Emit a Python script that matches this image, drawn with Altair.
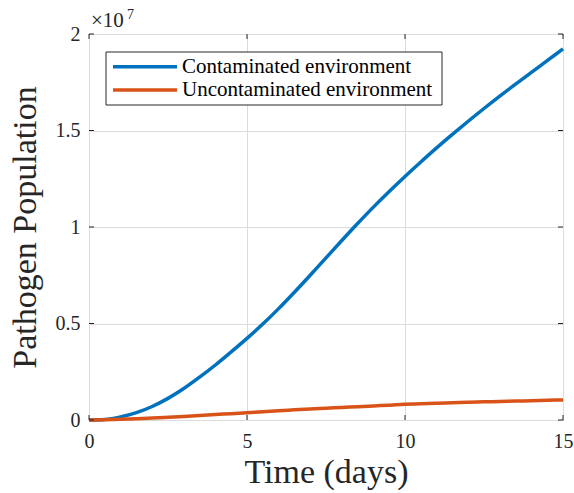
import altair as alt
import pandas as pd

# ---- data (values in units of 1e7) ----
T = [0, 0.5, 1, 1.5, 2, 2.5, 3, 3.5, 4, 4.5, 5, 5.5, 6, 6.5, 7, 7.5,
     8, 8.5, 9, 9.5, 10, 10.5, 11, 11.5, 12, 12.5, 13, 13.5, 14, 14.5, 15]
CONTAMINATED = [0, 0.003, 0.016, 0.038, 0.07, 0.112, 0.163, 0.222, 0.285, 0.353,
                0.423, 0.497, 0.577, 0.662, 0.75, 0.84, 0.93, 1.018, 1.103, 1.184,
                1.262, 1.337, 1.41, 1.48, 1.548, 1.614, 1.678, 1.74, 1.801, 1.862, 1.923]
UNCONTAMINATED = [0, 0.0015, 0.004, 0.007, 0.01, 0.014, 0.018, 0.023, 0.028, 0.033,
                  0.038, 0.043, 0.048, 0.0525, 0.057, 0.061, 0.065, 0.069, 0.073, 0.0765,
                  0.081, 0.084, 0.087, 0.0895, 0.092, 0.094, 0.096, 0.098, 0.100, 0.102, 0.104]
SERIES = ["Contaminated environment", "Uncontaminated environment"]
COLORS = ["#0072BD", "#D95319"]
X_TICKS = [0, 5, 10, 15]
Y_TICKS = [0, 0.5, 1, 1.5, 2]
MULTIPLIER_BASE = "×10"
MULTIPLIER_EXP = "7"
X_TITLE = "Time (days)"
Y_TITLE = "Pathogen Population"

W, H = 474, 386
FONT = "Liberation Serif"
INK = "#262626"

rows = []
for name, vals in zip(SERIES, [CONTAMINATED, UNCONTAMINATED]):
    for t, v in zip(T, vals):
        rows.append({"t": t, "v": v, "series": name})
df = pd.DataFrame(rows)

xscale = alt.Scale(domain=[0, 15], nice=False, zero=False)
yscale = alt.Scale(domain=[0, 2], nice=False)

xaxis = alt.Axis(values=X_TICKS, title=X_TITLE, grid=True, ticks=False, domain=False,
                 labelPadding=11, labelFontSize=20, labelFont=FONT, labelColor=INK,
                 titleFont=FONT, titleFontSize=34, titleFontWeight="normal", titleColor=INK,
                 titleBaseline="alphabetic", titleY=62, labelFlush=False)
yaxis = alt.Axis(values=Y_TICKS, title=Y_TITLE, grid=True, ticks=False, domain=False,
                 labelPadding=9, labelFontSize=20, labelFont=FONT, labelColor=INK,
                 labelExpr="datum.value + ''", labelBaseline="middle",
                 titleFont=FONT, titleFontSize=34, titleFontWeight="normal", titleColor=INK,
                 titleBaseline="alphabetic", titleX=-54, titleY=H / 2, titleAngle=-90,
                 labelFlush=False)

lines = alt.Chart(df).mark_line(strokeWidth=3.5, clip=False, interpolate="monotone").encode(
    x=alt.X("t:Q", scale=xscale, axis=xaxis),
    y=alt.Y("v:Q", scale=yscale, axis=yaxis),
    color=alt.Color("series:N", scale=alt.Scale(domain=SERIES, range=COLORS), legend=None),
    order=alt.Order("t:Q"),
)

xt = pd.DataFrame({"t": X_TICKS})
yt = pd.DataFrame({"v": Y_TICKS})
tick_style = dict(color=INK, strokeWidth=1)
xticks_b = alt.Chart(xt).mark_rule(**tick_style).encode(
    x=alt.X("t:Q", scale=xscale, axis=xaxis), y=alt.value(H), y2=alt.value(H - 5))
xticks_t = alt.Chart(xt).mark_rule(**tick_style).encode(
    x=alt.X("t:Q", scale=xscale, axis=xaxis), y=alt.value(0), y2=alt.value(5))
yticks_l = alt.Chart(yt).mark_rule(**tick_style).encode(
    y=alt.Y("v:Q", scale=yscale, axis=yaxis), x=alt.value(0), x2=alt.value(5))
yticks_r = alt.Chart(yt).mark_rule(**tick_style).encode(
    y=alt.Y("v:Q", scale=yscale, axis=yaxis), x=alt.value(W), x2=alt.value(W - 5))

one = pd.DataFrame({"k": [0]})
mult_base = alt.Chart(one).mark_text(font=FONT, fontSize=21, color=INK, align="left",
                                     baseline="alphabetic").encode(
    x=alt.value(2), y=alt.value(-7), text=alt.value(MULTIPLIER_BASE))
mult_exp = alt.Chart(one).mark_text(font=FONT, fontSize=14, color=INK, align="left",
                                    baseline="alphabetic").encode(
    x=alt.value(38), y=alt.value(-15), text=alt.value(MULTIPLIER_EXP))

# legend box (drawn manually, MATLAB style)
legend_box = alt.Chart(one).mark_rect(fill="white", stroke=INK, strokeWidth=1).encode(
    x=alt.value(17), x2=alt.value(353), y=alt.value(18), y2=alt.value(71))
legend_layers = [legend_box]
row_y = [32.7, 56]
for i, (name, col) in enumerate(zip(SERIES, COLORS)):
    legend_layers.append(alt.Chart(one).mark_rule(color=col, strokeWidth=3.5).encode(
        x=alt.value(24), x2=alt.value(88), y=alt.value(row_y[i])))
    legend_layers.append(alt.Chart(one).mark_text(font=FONT, fontSize=21, color="black",
                                                  align="left", baseline="middle").encode(
        x=alt.value(93), y=alt.value(row_y[i]), text=alt.value(name)))

chart = alt.layer(lines, xticks_b, xticks_t, yticks_l, yticks_r,
                  mult_base, mult_exp, *legend_layers).properties(
    width=W, height=H,
    autosize=alt.AutoSizeParams(type="none"),
    padding={"left": 89, "top": 34, "right": 11, "bottom": 73},
    background="white",
).configure_view(stroke=INK, strokeWidth=1).configure_axis(
    gridColor="#dcdcdc", gridWidth=1, gridOpacity=1, labelFont=FONT, titleFont=FONT
).configure_text(font=FONT)

chart.save("out.html", embed_options={"renderer": "svg", "actions": False})
